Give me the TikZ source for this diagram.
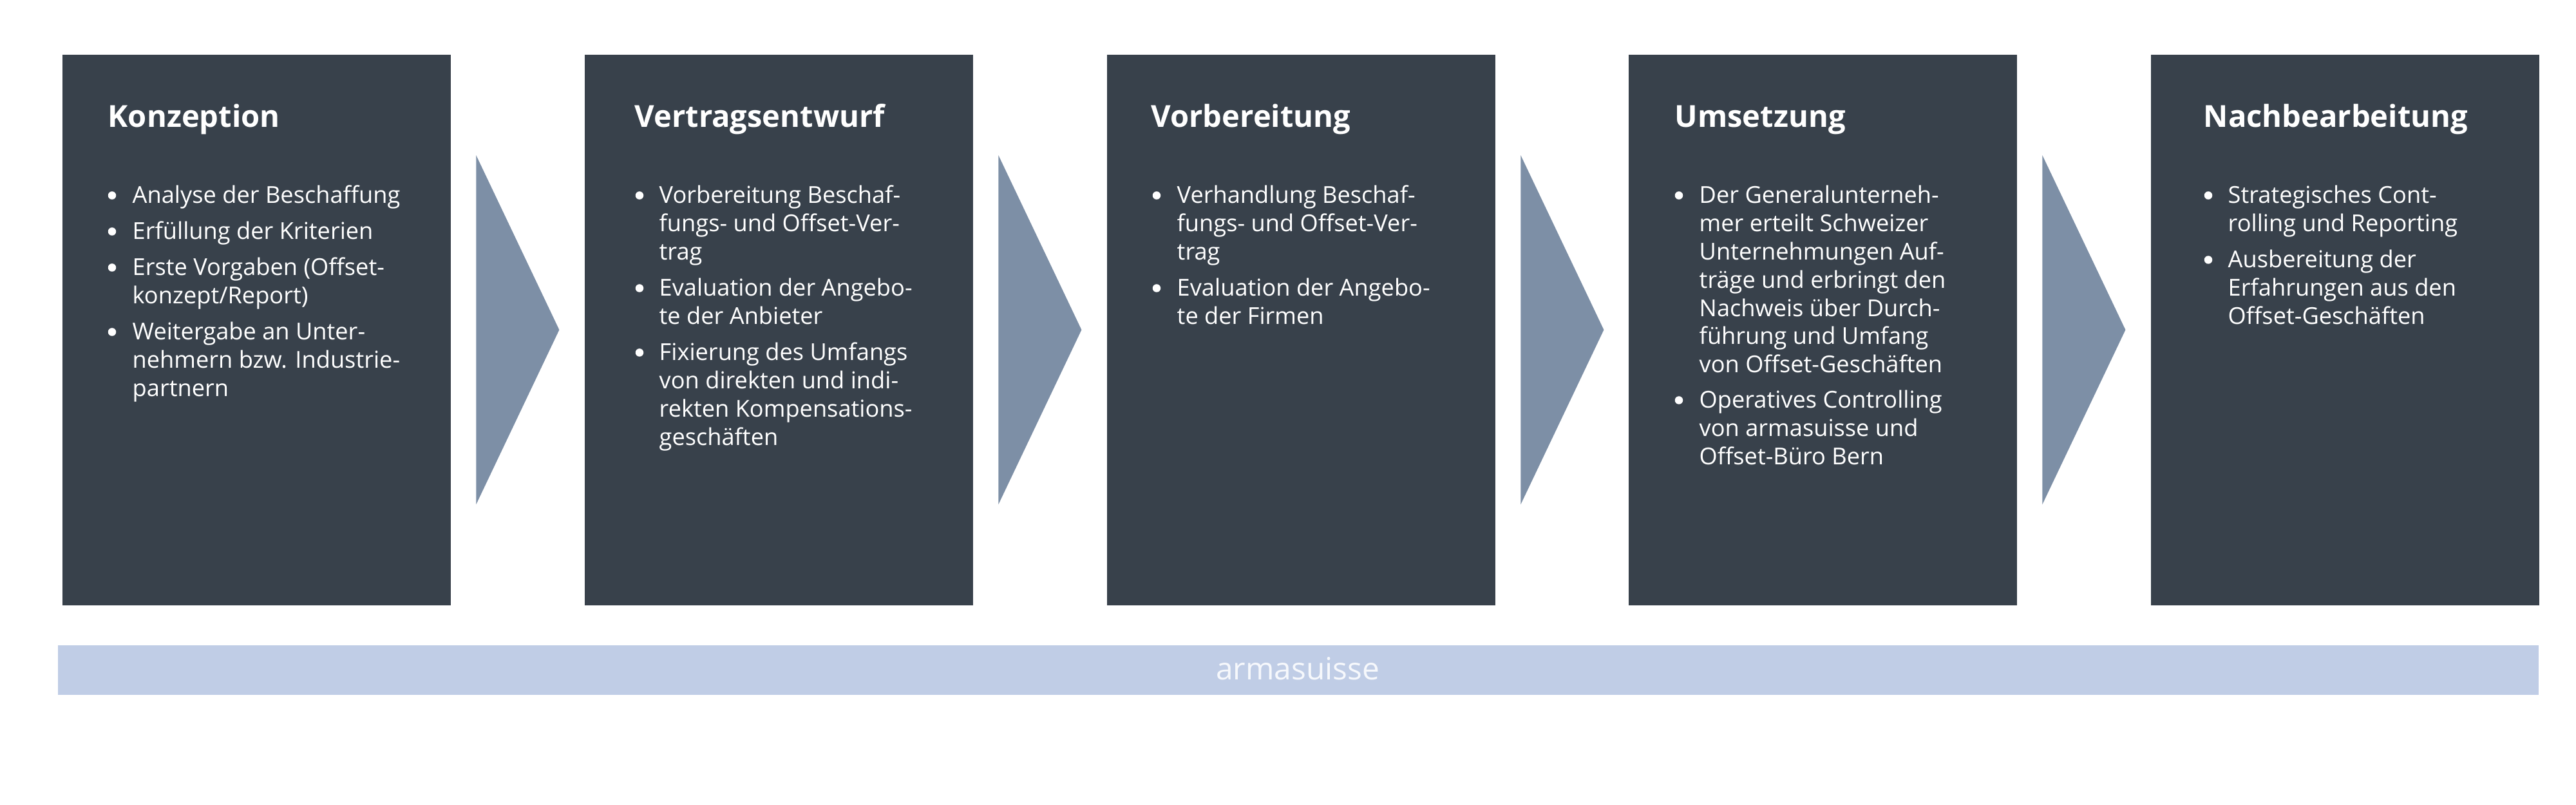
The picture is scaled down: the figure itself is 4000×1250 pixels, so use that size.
\documentclass[tikz,border=0pt]{standalone}
\usepackage{fontspec}
\setmainfont{Open Sans}
\usetikzlibrary{calc}
\definecolor{boxc}{RGB}{56,65,75}
\definecolor{arrc}{RGB}{125,143,166}
\definecolor{barc}{RGB}{192,205,230}
\definecolor{bartxt}{RGB}{246,248,252}
\newcommand\stk[1]{\begin{tabular}[t]{@{}l@{}}#1\end{tabular}}
\begin{document}
\begin{tikzpicture}[x=0.1mm,y=-0.1mm,
  stage/.style={fill=boxc, draw=none, inner sep=0pt, minimum width=60.3mm, minimum height=85.5mm, anchor=north west},
  chev/.style={fill=arrc, draw=none},
  ttl/.style={text=white, font=\fontsize{13.4pt}{16pt}\selectfont\bfseries, inner sep=0pt, anchor=base west},
  itm/.style={text=white, font=\fontsize{10.3pt}{12.45pt}\selectfont, inner sep=0pt, anchor=base west},
  bul/.style={circle, fill=white, draw=none, inner sep=0pt, minimum size=1.25mm, yshift=1.25mm},
  barbox/.style={fill=barc, draw=none, inner sep=0pt, minimum width=385.2mm, minimum height=7.7mm, anchor=north west}
]
\path[use as bounding box] (0,0) rectangle (4000,1250);

% stage boxes
\node[stage] (b1) at (96,84) {};
\node[stage] (b2) at (907,84) {};
\node[stage] (b3) at (1718,84) {};
\node[stage] (b4) at (2528,84) {};
\node[stage] (b5) at (3339,84) {};

% chevrons
\foreach \b in {b1,b2,b3,b4}{
  \fill[chev] ($(\b.east)+(39,-271)$) -- ($(\b.east)+(168,0)$) -- ($(\b.east)+(39,271)$) -- cycle;
}

% bar
\node[barbox] (bar) at (89,1001) {};
\node[text=bartxt, font=\fontsize{13.6pt}{16pt}\selectfont, inner sep=0pt, anchor=base] (bartext) at (2015,1056) {armasuisse};

% Box 1
\node[ttl] (t1) at (167,198) {Konzeption};
\node[bul] (b1i1b) at (174,316) {};
\node[itm] (b1i1) at (205,316) {\stk{Analyse der Beschaffung}};
\node[bul] (b1i2b) at (174,372) {};
\node[itm] (b1i2) at (205,372) {\stk{Erfüllung der Kriterien}};
\node[bul] (b1i3b) at (174,428) {};
\node[itm] (b1i3) at (205,428) {\stk{Erste Vorgaben (Offset-\\konzept/Report)}};
\node[bul] (b1i4b) at (174,528) {};
\node[itm] (b1i4) at (205,528) {\stk{Weitergabe an Unter-\\nehmern bzw. Industrie-\\partnern}};

% Box 2
\node[ttl] (t2) at (985,198) {Vertragsentwurf};
\node[bul] (b2i1b) at (993,316) {};
\node[itm] (b2i1) at (1023,316) {\stk{Vorbereitung Beschaf-\\fungs- und Offset-Ver-\\trag}};
\node[bul] (b2i2b) at (993,460) {};
\node[itm] (b2i2) at (1023,460) {\stk{Evaluation der Angebo-\\te der Anbieter}};
\node[bul] (b2i3b) at (993,560) {};
\node[itm] (b2i3) at (1023,560) {\stk{Fixierung des Umfangs\\von direkten und indi-\\rekten Kompensations-\\geschäften}};

% Box 3
\node[ttl] (t3) at (1787,198) {Vorbereitung};
\node[bul] (b3i1b) at (1796,316) {};
\node[itm] (b3i1) at (1827,316) {\stk{Verhandlung Beschaf-\\fungs- und Offset-Ver-\\trag}};
\node[bul] (b3i2b) at (1796,460) {};
\node[itm] (b3i2) at (1827,460) {\stk{Evaluation der Angebo-\\te der Firmen}};

% Box 4
\node[ttl] (t4) at (2600,198) {Umsetzung};
\node[bul] (b4i1b) at (2607,316) {};
\node[itm] (b4i1) at (2638,316) {\stk{Der Generalunterneh-\\mer erteilt Schweizer\\Unternehmungen Auf-\\träge und erbringt den\\Nachweis über Durch-\\führung und Umfang\\von Offset-Geschäften}};
\node[bul] (b4i2b) at (2607,634) {};
\node[itm] (b4i2) at (2638,634) {\stk{Operatives Controlling\\von armasuisse und\\Offset-Büro Bern}};

% Box 5
\node[ttl] (t5) at (3421,198) {Nachbearbeitung};
\node[bul] (b5i1b) at (3429,316) {};
\node[itm] (b5i1) at (3459,316) {\stk{Strategisches Cont-\\rolling und Reporting}};
\node[bul] (b5i2b) at (3429,416) {};
\node[itm] (b5i2) at (3459,416) {\stk{Ausbereitung der\\Erfahrungen aus den\\Offset-Geschäften}};
\end{tikzpicture}
\end{document}
